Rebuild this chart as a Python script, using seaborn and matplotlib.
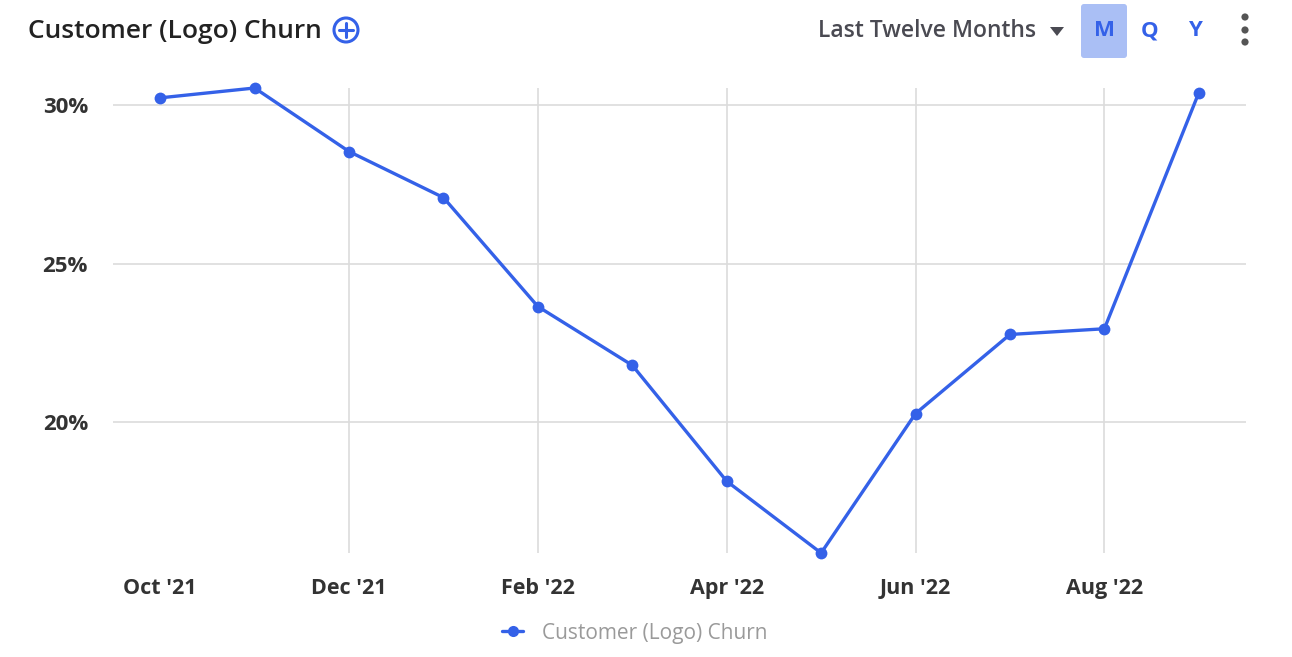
import matplotlib
matplotlib.use("Agg")
import matplotlib.pyplot as plt
import matplotlib.patches as mpatches
from matplotlib.transforms import IdentityTransform
from matplotlib.lines import Line2D
import seaborn as sns
import pandas as pd

months = ["Oct '21", "Nov '21", "Dec '21", "Jan '22", "Feb '22", "Mar '22",
          "Apr '22", "May '22", "Jun '22", "Jul '22", "Aug '22", "Sep '22"]
churn = [30.22, 30.53, 28.53, 27.08, 23.65, 21.80, 18.15, 15.89, 20.28, 22.77, 22.95, 30.38]
ytick_vals = [20, 25, 30]
ytick_labels = ["20%", "25%", "30%"]
title = "Customer (Logo) Churn"
series_name = "Customer (Logo) Churn"

BLUE = "#3461E8"
FONT = ["Open Sans", "DejaVu Sans"]
W, H = 1292, 657

sns.set_theme(style="white")
plt.rcParams["font.family"] = FONT

df = pd.DataFrame({"idx": range(len(months)), "month": months, "churn": churn})

fig = plt.figure(figsize=(12.92, 6.57), dpi=100)
ax = fig.add_axes([113/W, 1 - 553/H, (1246-113)/W, (553-88)/H])

sns.lineplot(data=df, x="idx", y="churn", ax=ax, color=BLUE, linewidth=2.4,
             marker="o", markersize=8.5, markeredgewidth=0, clip_on=False, legend=False)

ax.set_xlim(-0.5, len(months) - 0.5)
ax.set_ylim(min(churn), max(churn))
tick_idx = list(range(0, len(months), 2))
ax.set_xticks(tick_idx)
ax.set_xticklabels([months[i] for i in tick_idx], fontsize=15.5, fontweight="bold", color="#333333")
ax.set_yticks(ytick_vals)
ax.set_yticklabels(ytick_labels, fontsize=16, fontweight="bold", color="#333333")
ax.tick_params(axis="x", length=0, pad=18)
ax.tick_params(axis="y", length=0, pad=18)
ax.set_xlabel("")
ax.set_ylabel("")
for s in ax.spines.values():
    s.set_visible(False)
ax.grid(True, axis="both", color="#dcdcdc", linewidth=1.2)
ax.set_axisbelow(True)
ax.xaxis.get_gridlines()[0].set_visible(False)

px = IdentityTransform()

# Title and header controls
fig.text(28/W, 1 - 31/H, title, fontsize=19, fontweight="semibold", color="#222222",
         va="center", ha="left")
cx, cy = 346, H - 30
fig.patches.append(mpatches.Circle((cx, cy), 12, transform=px, fill=False,
                                   edgecolor=BLUE, linewidth=2.2))
fig.lines.append(Line2D([cx - 7, cx + 7], [cy, cy], transform=px, color=BLUE, linewidth=2.2))
fig.lines.append(Line2D([cx, cx], [cy - 7, cy + 7], transform=px, color=BLUE, linewidth=2.2))

fig.text(1036/W, 1 - 31/H, "Last Twelve Months", fontsize=16.5, fontweight="semibold",
         color="#4a4a52", ha="right", va="center")
fig.patches.append(mpatches.Polygon([[1050, H - 27], [1064, H - 27], [1057, H - 36]],
                                    closed=True, transform=px, facecolor="#4a4a52",
                                    edgecolor="none"))
fig.patches.append(mpatches.FancyBboxPatch((1081, H - 58), 46, 54,
                                           boxstyle="round,pad=0,rounding_size=3",
                                           transform=px, facecolor="#aabff5",
                                           edgecolor="none"))
for lbl, xp in [("M", 1104), ("Q", 1150), ("Y", 1195)]:
    fig.text(xp/W, 1 - 31/H, lbl, fontsize=16, fontweight="bold", color=BLUE,
             ha="center", va="center")
for yp in [17, 30, 42]:
    fig.patches.append(mpatches.Circle((1245, H - yp), 3.6, transform=px,
                                       facecolor="#555555", edgecolor="none"))

# Legend
handle = Line2D([], [], color=BLUE, marker="o", markersize=8, linewidth=2.4, markeredgewidth=0)
fig.legend([handle], [series_name], loc="center", bbox_to_anchor=(635/W, 1 - 633/H),
           frameon=False, fontsize=15, labelcolor="#9a9a9a", handlelength=1.0, handletextpad=0.9)

fig.savefig("out.png", dpi=100)
